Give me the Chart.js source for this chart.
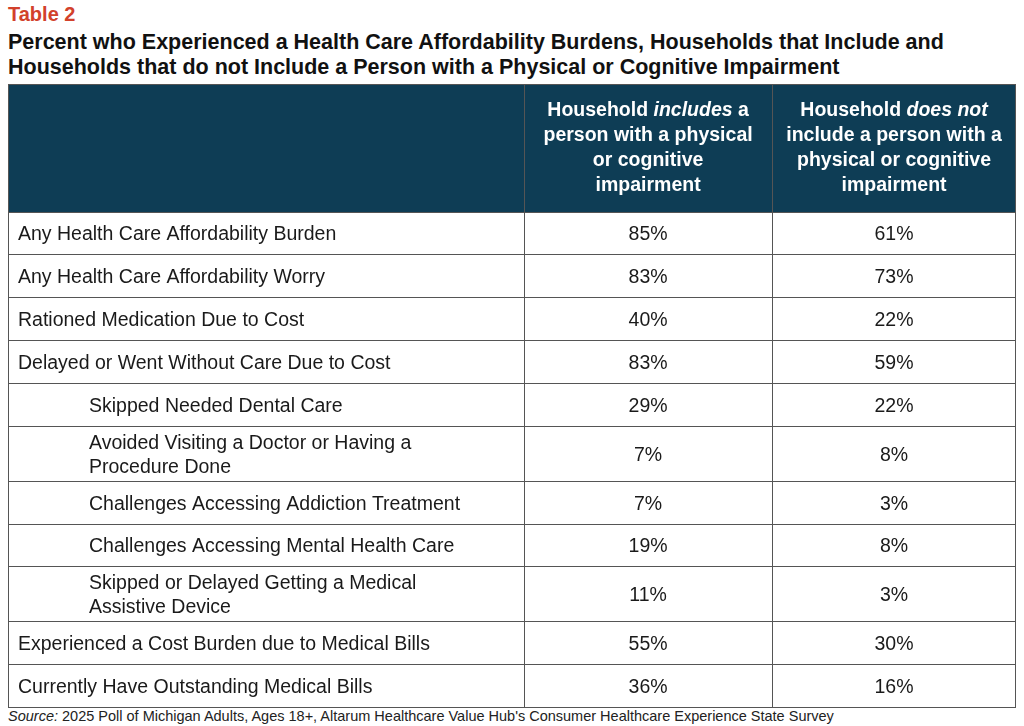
<!DOCTYPE html>
<html><head><meta charset="utf-8">
<script src="https://cdn.jsdelivr.net/npm/chart.js@4"></script>
<style>
body{margin:0;background:#fff;font-family:"Liberation Sans",Arial,sans-serif;}
#t0{position:absolute;left:8px;top:3px;color:#d2412b;font-weight:bold;font-size:20px;}
#t1{position:absolute;left:8px;top:30px;color:#111;font-weight:bold;font-size:21.5px;line-height:25px;}
#src{position:absolute;left:8px;top:708px;font-size:14.5px;color:#222;}
canvas{position:absolute;left:8px;top:84px;}
</style></head><body>
<div id="t0">Table 2</div>
<div id="t1">Percent who Experienced a Health Care Affordability Burdens, Households that Include and<br>Households that do not Include a Person with a Physical or Cognitive Impairment</div>
<canvas id="c" width="1008" height="624"></canvas>
<div id="src"><i>Source:</i> 2025 Poll of Michigan Adults, Ages 18+, Altarum Healthcare Value Hub's Consumer Healthcare Experience State Survey</div>
<script>
const rowLabels = [
  ["Any Health Care Affordability Burden"],
  ["Any Health Care Affordability Worry"],
  ["Rationed Medication Due to Cost"],
  ["Delayed or Went Without Care Due to Cost"],
  ["Skipped Needed Dental Care"],
  ["Avoided Visiting a Doctor or Having a", "Procedure Done"],
  ["Challenges Accessing Addiction Treatment"],
  ["Challenges Accessing Mental Health Care"],
  ["Skipped or Delayed Getting a Medical", "Assistive Device"],
  ["Experienced a Cost Burden due to Medical Bills"],
  ["Currently Have Outstanding Medical Bills"]
];
const subItem = [false,false,false,false,true,true,true,true,true,false,false];
const withImpairment = [85,83,40,83,29,7,7,19,11,55,36];
const withoutImpairment = [61,73,22,59,22,8,3,8,3,30,16];
const headers = [
  [],
  [[["Household ",0],["includes",1],[" a",0]],[["person with a physical",0]],[["or cognitive",0]],[["impairment",0]]],
  [[["Household ",0],["does not",1]],[["include a person with a",0]],[["physical or cognitive",0]],[["impairment",0]]]
];
const colEdges = [0, 0.512, 0.758, 1];

// row boundaries in "row units": header, single line 1, two lines 1.28
const heights = [3.0].concat(rowLabels.map(r => r.length > 1 ? 1.28 : 1));
const edges = [0];
heights.forEach(h => edges.push(edges[edges.length-1] + h));
const total = edges[edges.length-1];

const tablePlugin = {
  id: 'table',
  afterDraw(chart) {
    const ctx = chart.ctx, xs = chart.scales.x, ys = chart.scales.y;
    const X = v => xs.getPixelForValue(v), Y = v => ys.getPixelForValue(v);
    ctx.save();
    // header
    ctx.fillStyle = '#0e3d55';
    ctx.fillRect(X(0), Y(0), X(1)-X(0), Y(edges[1])-Y(0));
    ctx.textBaseline = 'middle';
    for (let c = 1; c < 3; c++) {
      const lines = headers[c];
      const cx = (X(colEdges[c]) + X(colEdges[c+1])) / 2;
      const cy = (Y(0) + Y(edges[1])) / 2;
      lines.forEach((runs, i) => {
        const y = cy + (i - (lines.length-1)/2) * 25;
        const fonts = runs.map(r => (r[1] ? 'italic ' : '') + 'bold 19.5px "Liberation Sans", Arial');
        let w = 0;
        runs.forEach((r, k) => { ctx.font = fonts[k]; w += ctx.measureText(r[0]).width; });
        let x = cx - w/2;
        ctx.fillStyle = '#fff';
        ctx.textAlign = 'left';
        runs.forEach((r, k) => { ctx.font = fonts[k]; ctx.fillText(r[0], x, y); x += ctx.measureText(r[0]).width; });
      });
    }
    // body
    ctx.font = '19.5px "Liberation Sans", Arial';
    ctx.fillStyle = '#1a1a1a';
    rowLabels.forEach((lab, i) => {
      const top = Y(edges[i+1]), bot = Y(edges[i+2]), cy = (top+bot)/2 + 1;
      ctx.textAlign = 'left';
      lab.forEach((t, k) => ctx.fillText(t, X(0) + (subItem[i] ? 81 : 10), cy + (k - (lab.length-1)/2) * 24));
      ctx.textAlign = 'center';
      ctx.fillText(withImpairment[i] + '%', (X(colEdges[1])+X(colEdges[2]))/2, cy);
      ctx.fillText(withoutImpairment[i] + '%', (X(colEdges[2])+X(colEdges[3]))/2, cy);
    });
    // grid
    ctx.strokeStyle = '#555';
    ctx.lineWidth = 1;
    ctx.beginPath();
    edges.slice(1).forEach(e => { const y = Math.round(Y(e)) - 0.5; ctx.moveTo(X(0), y); ctx.lineTo(X(1), y); });
    colEdges.forEach(e => { const x = Math.min(Math.round(X(e)) + 0.5, X(1) - 0.5); ctx.moveTo(x, Y(0)); ctx.lineTo(x, Y(total)); });
    ctx.moveTo(X(0), Y(0) + 0.5); ctx.lineTo(X(1), Y(0) + 0.5);
    ctx.stroke();
    ctx.restore();
  }
};

new Chart(document.getElementById('c'), {
  type: 'scatter',
  data: { datasets: [{ data: [], pointRadius: 0 }] },
  options: {
    responsive: false,
    animation: false,
    layout: { padding: 0 },
    plugins: { legend: { display: false }, tooltip: { enabled: false } },
    scales: {
      x: { type: 'linear', min: 0, max: 1, display: false },
      y: { type: 'linear', min: 0, max: total, reverse: true, display: false }
    }
  },
  plugins: [tablePlugin]
});
</script>
</body></html>
